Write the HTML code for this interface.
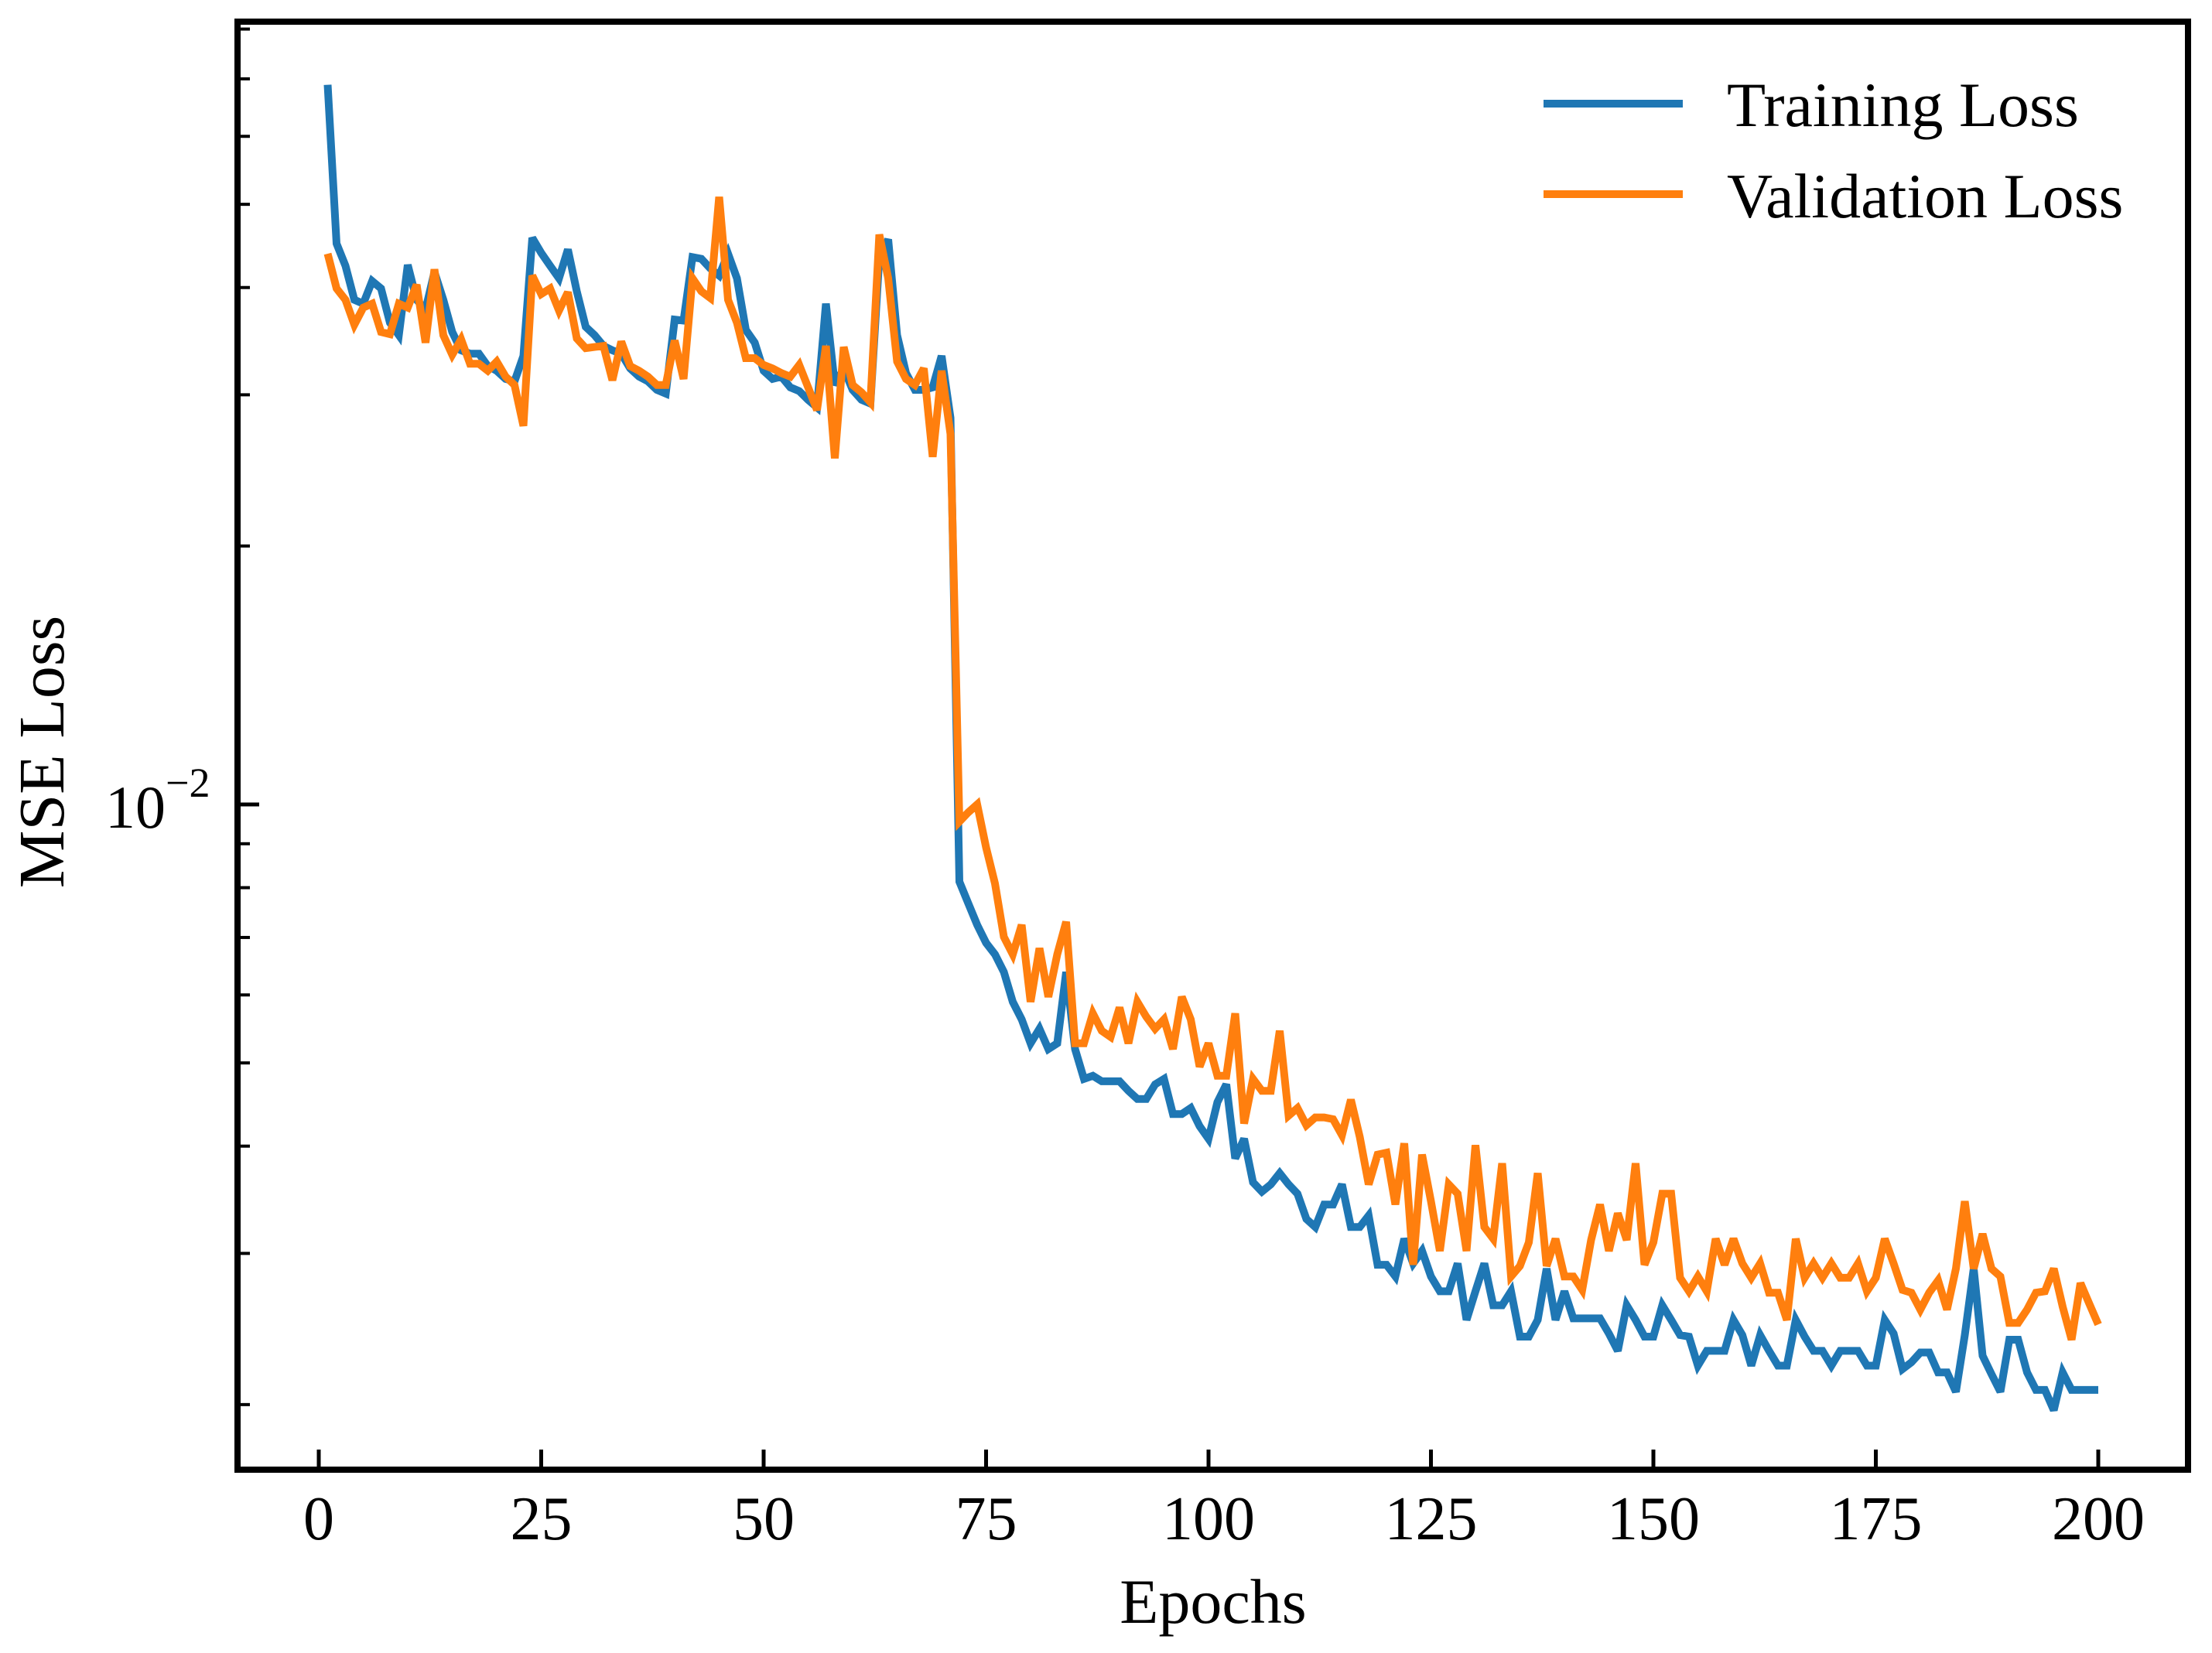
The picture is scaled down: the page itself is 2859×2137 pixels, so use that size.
<!DOCTYPE html>
<html><head><meta charset="utf-8"><style>
html,body{margin:0;padding:0;background:#fff;}
svg{display:block;font-family:"Liberation Serif","DejaVu Serif",serif;}
</style></head><body>
<svg id="chart" width="2859" height="2137" viewBox="0 0 2859 2137" xmlns="http://www.w3.org/2000/svg">
<rect x="0" y="0" width="2859" height="2137" fill="#fff"/>
<g id="marks"></g>
<g id="axes"></g>
<text x="1568" y="2098" font-size="82" text-anchor="middle">Epochs</text>
<text transform="translate(82,972) rotate(-90)" font-size="84" text-anchor="middle">MSE Loss</text>
<g>
<line x1="1995" y1="134" x2="2175" y2="134" stroke="#1f77b4" stroke-width="10"/>
<text x="2232" y="163" font-size="82">Training Loss</text>
<line x1="1995" y1="251" x2="2175" y2="251" stroke="#ff7f0e" stroke-width="10"/>
<text x="2232" y="281" font-size="82">Validation Loss</text>
</g>
</svg>
<script>
const xTicks = [0, 25, 50, 75, 100, 125, 150, 175, 200];
const yMinorTicks = [0.002,0.003,0.004,0.005,0.006,0.007,0.008,0.009,0.02,0.03,0.04,0.05,0.06,0.07,0.08];
const trainLoss = [68.9,45.0,42.4,38.7,38.3,40.7,39.9,36.4,35.2,42.5,38.7,37.7,41.7,38.7,35.5,33.8,33.5,33.5,32.4,32.0,31.3,31.1,33.3,45.7,43.9,42.4,41.0,44.3,39.6,36.0,35.2,34.2,33.8,33.5,32.2,31.5,31.1,30.4,30.1,36.7,36.6,43.4,43.2,42.1,41.3,43.8,41.0,35.7,34.5,32.0,31.3,31.5,30.6,30.3,29.6,29.0,38.3,30.8,32.2,30.4,29.6,29.3,43.4,45.5,35.2,31.8,30.4,30.4,30.6,33.3,28.2,8.13,7.67,7.24,6.90,6.69,6.38,5.89,5.62,5.27,5.48,5.19,5.27,6.38,5.19,4.79,4.83,4.76,4.76,4.76,4.64,4.54,4.54,4.72,4.79,4.36,4.36,4.43,4.22,4.08,4.50,4.72,3.87,4.08,3.63,3.54,3.61,3.72,3.61,3.52,3.29,3.22,3.42,3.42,3.61,3.22,3.22,3.32,2.91,2.91,2.82,3.12,2.92,3.02,2.82,2.71,2.71,2.92,2.51,2.71,2.92,2.61,2.61,2.71,2.40,2.40,2.51,2.88,2.51,2.71,2.52,2.52,2.52,2.52,2.42,2.31,2.61,2.51,2.40,2.40,2.61,2.51,2.41,2.40,2.22,2.31,2.31,2.31,2.51,2.41,2.22,2.41,2.31,2.22,2.22,2.51,2.40,2.31,2.31,2.22,2.31,2.31,2.31,2.22,2.22,2.51,2.42,2.20,2.24,2.30,2.30,2.18,2.18,2.07,2.41,2.88,2.28,2.17,2.07,2.38,2.38,2.18,2.08,2.08,1.97,2.18,2.08,2.08,2.08,2.08];
const valLoss = [43.8,39.9,38.7,36.2,37.9,38.3,35.5,35.3,38.3,37.9,40.3,34.5,42.0,35.2,33.4,34.8,32.6,32.6,32.0,32.8,31.5,30.8,27.6,41.3,39.3,39.9,37.6,39.5,34.9,34.0,34.1,34.2,31.2,34.6,32.4,32.0,31.5,30.8,30.8,34.7,31.3,41.0,39.6,38.9,51.0,38.7,36.4,33.1,33.1,32.5,32.2,31.8,31.5,32.5,30.6,28.8,34.2,25.3,34.1,30.8,30.2,29.4,46.1,41.0,32.8,31.3,30.8,32.2,25.4,32.0,27.0,9.55,9.79,10.0,8.91,8.09,7.01,6.69,7.24,5.89,6.80,5.97,6.69,7.30,5.27,5.27,5.71,5.45,5.36,5.80,5.27,5.89,5.66,5.48,5.62,5.19,5.97,5.62,4.95,5.27,4.83,4.83,5.71,4.25,4.79,4.64,4.64,5.45,4.34,4.43,4.23,4.32,4.32,4.30,4.12,4.53,4.10,3.61,3.91,3.93,3.42,4.03,2.91,3.91,3.45,3.02,3.61,3.52,3.02,4.01,3.22,3.12,3.82,2.82,2.90,3.09,3.72,2.90,3.12,2.82,2.82,2.72,3.11,3.42,3.02,3.34,3.11,3.82,2.91,3.09,3.52,3.52,2.81,2.71,2.82,2.71,3.12,2.91,3.12,2.92,2.81,2.92,2.70,2.70,2.51,3.12,2.81,2.92,2.81,2.92,2.81,2.81,2.92,2.71,2.81,3.12,2.92,2.72,2.70,2.58,2.70,2.79,2.58,2.88,3.45,2.88,3.16,2.88,2.82,2.49,2.49,2.58,2.70,2.71,2.88,2.60,2.38,2.77,2.62,2.48];
const lossUnit = 0.001;

const NS = "http://www.w3.org/2000/svg";
const L = 307, R = 2828, T = 28, B = 1900;
function xs(e){ return 412 + (2712 - 412) * e / 200; }
function ys(v){ return 1040 - 1110 * (Math.log10(v) + 2); }
function mk(tag, attrs, parent){ const el = document.createElementNS(NS, tag); for (const k in attrs) el.setAttribute(k, attrs[k]); parent.appendChild(el); return el; }

const marks = document.getElementById('marks');
const axes = document.getElementById('axes');

function drawSeries(arr, color, name){
  const pts = arr.map((v, i) => xs(i + 1).toFixed(1) + ',' + ys(v * lossUnit).toFixed(1)).join(' ');
  const pl = mk('polyline', {points: pts, fill: 'none', stroke: color, 'stroke-width': 10, 'stroke-linejoin': 'miter', 'stroke-miterlimit': 3}, marks);
  
  
}
drawSeries(trainLoss, '#1f77b4', 'training-loss-line');
drawSeries(valLoss, '#ff7f0e', 'validation-loss-line');

const fr = mk('rect', {x: L, y: T, width: R - L, height: B - T, fill: 'none', stroke: '#000', 'stroke-width': 8}, axes);



xTicks.forEach(t => {
  const x = xs(t);
  const tk = mk('line', {x1: x, y1: B, x2: x, y2: B - 26, stroke: '#000', 'stroke-width': 5}, axes);
  
  
  const lb = mk('text', {x: x, y: 1990, 'font-size': 80, 'text-anchor': 'middle'}, axes);
  lb.textContent = String(t);
  
  
});

yMinorTicks.forEach(v => {
  const y = ys(v);
  const tk = mk('line', {x1: L, y1: y, x2: L + 16, y2: y, stroke: '#000', 'stroke-width': 4}, axes);
  
  
});
const ymaj = ys(0.01);
const mt = mk('line', {x1: L, y1: ymaj, x2: L + 28, y2: ymaj, stroke: '#000', 'stroke-width': 5}, axes);


const yl = mk('text', {x: 136, y: ymaj + 30, 'font-size': 78}, axes);


yl.textContent = '10';
const sup = mk('tspan', {dy: -40, 'font-size': 54}, yl);
sup.textContent = '\u22122';
</script>
</body></html>
